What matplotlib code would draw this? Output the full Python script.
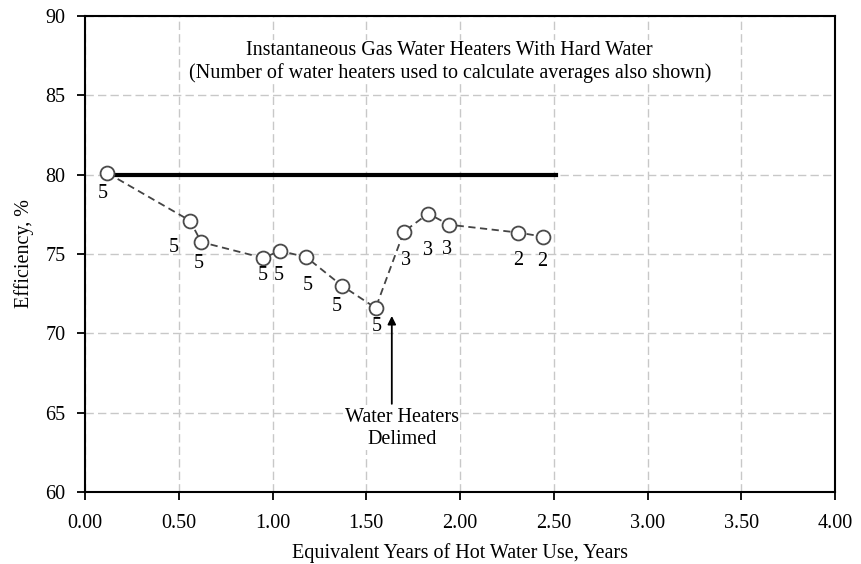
import numpy as np
import matplotlib.pyplot as plt

years = [0.12, 0.56, 0.62, 0.95, 1.04, 1.18, 1.37, 1.55, 1.70, 1.83, 1.94, 2.31, 2.44]
efficiency = [80.1, 77.1, 75.75, 74.75, 75.2, 74.8, 73.0, 71.6, 76.4, 77.55, 76.85, 76.35, 76.1]
counts = ["5", "5", "5", "5", "5", "5", "5", "5", "3", "3", "3", "2", "2"]
rated_x = [0.12, 2.51]
rated_y = [80.0, 80.0]

# label offsets in pixels (dx, dy downward)
label_off = [(-5, 20), (-16, 27), (-3, 21), (0, 18), (-1, 25), (1, 28), (-5, 21),
             (1, 19), (2, 29), (0, 37), (-2, 25), (0, 28), (0, 25)]

FS = 14.5
plt.rcParams['font.family'] = ['Liberation Serif', 'DejaVu Serif']
plt.rcParams['font.size'] = FS

fig = plt.figure(figsize=(8.61, 5.64), dpi=100)
ax = fig.add_axes([0.0987, 0.1277, 0.8713, 0.8439])

ax.grid(True, color='#c8c8c8', linestyle=(0, (6, 3)), linewidth=1.0)
ax.set_axisbelow(True)

ax.plot(rated_x, rated_y, color='black', linewidth=3, zorder=3)
ax.plot(years, efficiency, color='#444444', linestyle=(0, (4, 2.5)), linewidth=1.3,
        marker='o', markersize=10, markerfacecolor='white', markeredgecolor='#4a4a4a',
        markeredgewidth=1.3, zorder=4)

for x, y, c, (dx, dy) in zip(years, efficiency, counts, label_off):
    ax.annotate(c, (x, y), xytext=(dx * 0.72, -dy * 0.72), textcoords='offset points',
                ha='center', va='center', fontsize=FS, zorder=5)

ax.annotate('', xy=(1.636, 71.27), xytext=(1.636, 65.38),
            arrowprops=dict(arrowstyle='-|>', color='black', lw=1.3, mutation_scale=12))
ax.text(1.689, 64.0, 'Water Heaters\nDelimed', ha='center', va='center',
        fontsize=FS, linespacing=1.2,
        bbox=dict(facecolor='white', edgecolor='none', pad=1))

ax.text(1.945, 87.1, 'Instantaneous Gas Water Heaters With Hard Water\n'
        '(Number of water heaters used to calculate averages also shown)',
        ha='center', va='center', fontsize=FS, linespacing=1.2,
        bbox=dict(facecolor='white', edgecolor='none', pad=1))

ax.set_xlim(0, 4)
ax.set_ylim(60, 90)
ax.set_xticks(np.arange(0, 4.01, 0.5))
ax.set_xticklabels(['%.2f' % v for v in np.arange(0, 4.01, 0.5)])
ax.set_yticks(np.arange(60, 91, 5))
ax.tick_params(direction='out', length=6, width=1.3)
ax.tick_params(axis='x', pad=10)
ax.tick_params(axis='y', pad=8)

for s in ax.spines.values():
    s.set_linewidth(1.5)
    s.set_color('black')

ax.set_xlabel('Equivalent Years of Hot Water Use, Years', labelpad=7)
ax.set_ylabel('Efficiency, %', labelpad=8)

fig.savefig('out.png', dpi=100)
